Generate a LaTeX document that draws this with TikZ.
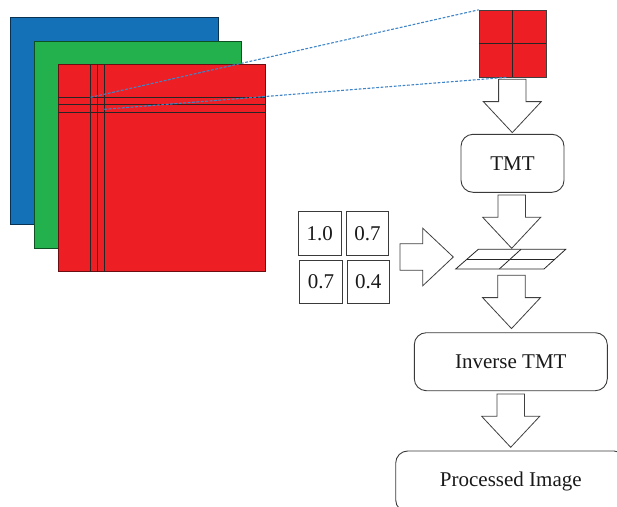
\documentclass[tikz,border=0pt]{standalone}
\usepackage{fontspec}
\setmainfont{Liberation Serif}
\definecolor{chanblue}{HTML}{1470B7}
\definecolor{changreen}{HTML}{22B14C}
\definecolor{chanred}{HTML}{ED1F25}
\definecolor{zoomline}{HTML}{3F86C8}
\definecolor{edgegray}{HTML}{3A3A3A}
\tikzset{
  plane/.style={fill=#1, draw=#1!45!black, line width=0.9pt, inner sep=0pt,
    anchor=north west, minimum width=207.5pt, minimum height=207pt},
  gridline/.style={draw=black!85, line width=0.8pt},
  zoomray/.style={draw=zoomline, line width=1.1pt, dash pattern=on 2.8pt off 1.6pt},
  stage/.style={draw=edgegray, line width=0.9pt, rounded corners=12pt, inner sep=0pt,
    font=\fontsize{21}{24}\selectfont, text=black!90},
  weight/.style={draw=edgegray, line width=0.8pt, inner sep=0pt,
    minimum width=42.7pt, minimum height=43.3pt,
    font=\fontsize{21}{24}\selectfont, text=black!90},
  arrowline/.style={draw=black!75, fill=white, line width=0.8pt, line join=miter},
  pics/downarrow/.style={code={
    \draw[arrowline] (-13.7,0) -- (13.7,0) -- (13.7,22.3) -- (29,22.3)
      -- (0,53.3) -- (-29,22.3) -- (-13.7,22.3) -- cycle;}},
  pics/rightarrow/.style={code={
    \draw[arrowline] (0,-13.3) -- (22.7,-13.3) -- (22.7,-28.8) -- (53.3,0)
      -- (22.7,28.8) -- (22.7,13.3) -- (0,13.3) -- cycle;}},
}
\begin{document}
\begin{tikzpicture}[x=1pt,y=-1pt]
\useasboundingbox (0,0) rectangle (617,506);

% colour planes of the input image
\node[plane=chanblue]  (blueplane)  at (10,16.7) {};
\node[plane=changreen] (greenplane) at (33.7,41) {};
\node[plane=chanred]   (redplane)   at (57.7,64.3) {};

% block grid on the red plane
\foreach \gx in {90.3,97.3,104.3}
  \draw[gridline] (\gx,64.3) -- (\gx,271.7);
\foreach \gy in {97.3,104.7,112.3}
  \draw[gridline] (57.7,\gy) -- (265.7,\gy);

% enlarged 2x2 block
\node[fill=chanred, draw=black!75, line width=0.9pt, inner sep=0pt,
  minimum width=66.7pt, minimum height=66.7pt] (patch) at (512.6,43.6) {};
\draw[gridline] (patch.north) -- (patch.south);
\draw[gridline] (patch.west) -- (patch.east);

% rays from the block to its enlargement
\coordinate (rayA) at (90.7,97.3);
\coordinate (rayB) at (104.3,109.3);
\coordinate (rayBend) at (507,77.3);
\draw[zoomray] (rayA) -- (patch.north west);
\draw[zoomray] (rayB) -- (rayBend);

% processing chain
\pic at (512.3,79.3) {downarrow};
\node[stage, minimum width=103pt, minimum height=58pt] (tmt) at (512.5,163.3) {TMT};
\pic at (511.7,195) {downarrow};

% transformed block
\coordinate (pA) at (478.3,249.3);
\coordinate (pB) at (565.7,249.3);
\coordinate (pC) at (544,269);
\coordinate (pD) at (455.7,269);
\draw[line width=0.8pt, draw=black!85, line join=miter] (pA) -- (pB) -- (pC) -- (pD) -- cycle;
\draw[line width=0.8pt, draw=black!85] (467,259.2) -- (554.9,259.2);
\draw[line width=0.8pt, draw=black!85] (521,249.3) -- (499.3,269);

% weight matrix
\node[weight] (w11) at (319.7,233.3) {1.0};
\node[weight] (w12) at (367.5,233.3) {0.7};
\node[weight] (w21) at (321,282) {0.7};
\node[weight] (w22) at (368.3,282) {0.4};
\pic at (400,257) {rightarrow};

\pic at (511.5,275.3) {downarrow};
\node[stage, minimum width=193pt, minimum height=58pt] (itmt) at (510.8,361.7) {Inverse TMT};
\pic at (510.7,394) {downarrow};

\begin{scope}
  \clip (0,0) rectangle (617,506);
  \node[stage, minimum width=230.2pt, minimum height=61pt] (result) at (510.8,481.5) {Processed Image};
\end{scope}
\end{tikzpicture}
\end{document}
